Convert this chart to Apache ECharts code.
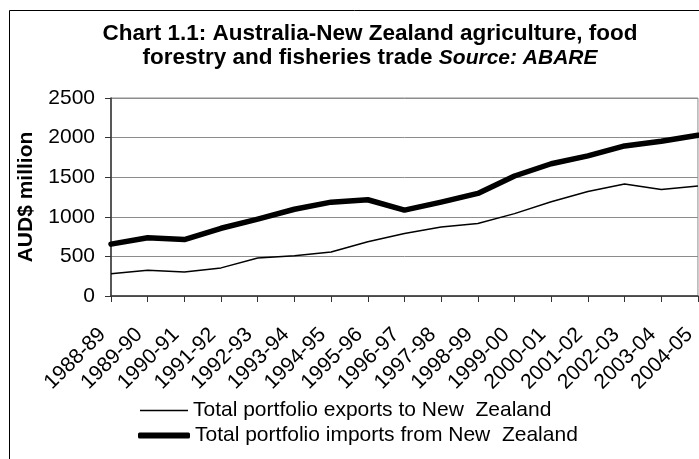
<!DOCTYPE html>
<html>
<head>
<meta charset="utf-8">
<script src="https://cdn.jsdelivr.net/npm/echarts@6/dist/echarts.min.js"></script>
<style>
  html, body { margin: 0; padding: 0; background: #ffffff; }
  #chart { width: 699px; height: 459px; }
</style>
</head>
<body>
<div id="chart"></div>
<script>
// Financial years on the category axis
var years = ['1988-89', '1989-90', '1990-91', '1991-92', '1992-93', '1993-94', '1994-95',
  '1995-96', '1996-97', '1997-98', '1998-99', '1999-00', '2000-01', '2001-02',
  '2002-03', '2003-04', '2004-05'];

// Trade values, AUD$ million
var exportsToNZ = [280, 325, 303, 355, 480, 507, 555, 685, 790, 870, 915, 1040, 1190, 1320, 1415, 1345, 1390];
var importsFromNZ = [655, 735, 712, 855, 970, 1095, 1185, 1215, 1085, 1185, 1295, 1515, 1670, 1770, 1895, 1955, 2030];

var seriesNames = ['Total portfolio exports to New  Zealand', 'Total portfolio imports from New  Zealand'];

var FONT = '"Liberation Sans", Arial, sans-serif';

var legendText = { fontFamily: FONT, fontSize: 21, color: '#000' };

var chart = echarts.init(document.getElementById('chart'), null, { renderer: 'canvas' });

chart.setOption({
  animation: false,
  backgroundColor: '#ffffff',
  textStyle: { fontFamily: FONT, color: '#000000' },
  title: {
    left: 365,
    top: 17,
    textAlign: 'center',
    text: '{b|Chart 1.1: Australia-New Zealand agriculture, food}\n{b|forestry and fisheries trade }{i|Source: ABARE}',
    textStyle: {
      rich: {
        b: { fontFamily: FONT, fontSize: 22.5, fontWeight: 'bold', color: '#000', lineHeight: 24 },
        i: { fontFamily: FONT, fontSize: 21, fontStyle: 'italic', color: '#000', lineHeight: 24 }
      }
    }
  },
  graphic: [{
    type: 'rect',
    shape: { x: 9.5, y: 10.5, width: 720, height: 470 },
    style: { fill: 'none', stroke: '#000000', lineWidth: 1 },
    silent: true
  }],
  grid: {
    left: 111, right: 1, top: 98, bottom: 163,
    show: true, borderColor: '#8c8c8c', borderWidth: 1, backgroundColor: 'transparent'
  },
  // one legend block per row so each key line gets its own thickness
  legend: [
    {
      left: 135, top: 395, itemWidth: 48, itemHeight: 1.5, itemGap: 0,
      icon: 'rect',
      textStyle: legendText,
      data: [seriesNames[0]]
    },
    {
      left: 133, top: 420, itemWidth: 52, itemHeight: 6, itemGap: 0,
      icon: 'roundRect',
      textStyle: legendText,
      data: [seriesNames[1]]
    }
  ],
  xAxis: {
    type: 'category',
    data: years,
    boundaryGap: false,
    axisLine: { lineStyle: { color: '#333333', width: 1.5 } },
    axisTick: { show: true, length: 6, alignWithLabel: true, lineStyle: { color: '#333333' } },
    axisLabel: { rotate: 45, margin: 27, interval: 0, padding: [0, 12, 0, 0], fontFamily: FONT, fontSize: 21, color: '#000' },
    splitLine: { show: false }
  },
  yAxis: {
    type: 'value',
    min: 0, max: 2500, interval: 500,
    name: 'AUD$ million',
    nameLocation: 'middle',
    nameRotate: 90,
    nameGap: 74,
    nameTextStyle: { fontFamily: FONT, fontSize: 21, fontWeight: 'bold', color: '#000' },
    axisLine: { show: true, lineStyle: { color: '#333333', width: 1.5 } },
    axisTick: { show: true, length: 6, lineStyle: { color: '#333333' } },
    axisLabel: { margin: 16, fontFamily: FONT, fontSize: 21, color: '#000', formatter: function (v) { return String(v); } },
    splitLine: { show: true, lineStyle: { color: '#8c8c8c', width: 1 } }
  },
  series: [
    {
      name: seriesNames[0],
      type: 'line',
      data: exportsToNZ,
      symbol: 'none',
      lineStyle: { color: '#000', width: 1.5 },
      itemStyle: { color: '#000' }
    },
    {
      name: seriesNames[1],
      type: 'line',
      data: importsFromNZ,
      symbol: 'none',
      lineStyle: { color: '#000', width: 5.5, cap: 'round', join: 'round' },
      itemStyle: { color: '#000' }
    }
  ]
});
</script>
</body>
</html>
